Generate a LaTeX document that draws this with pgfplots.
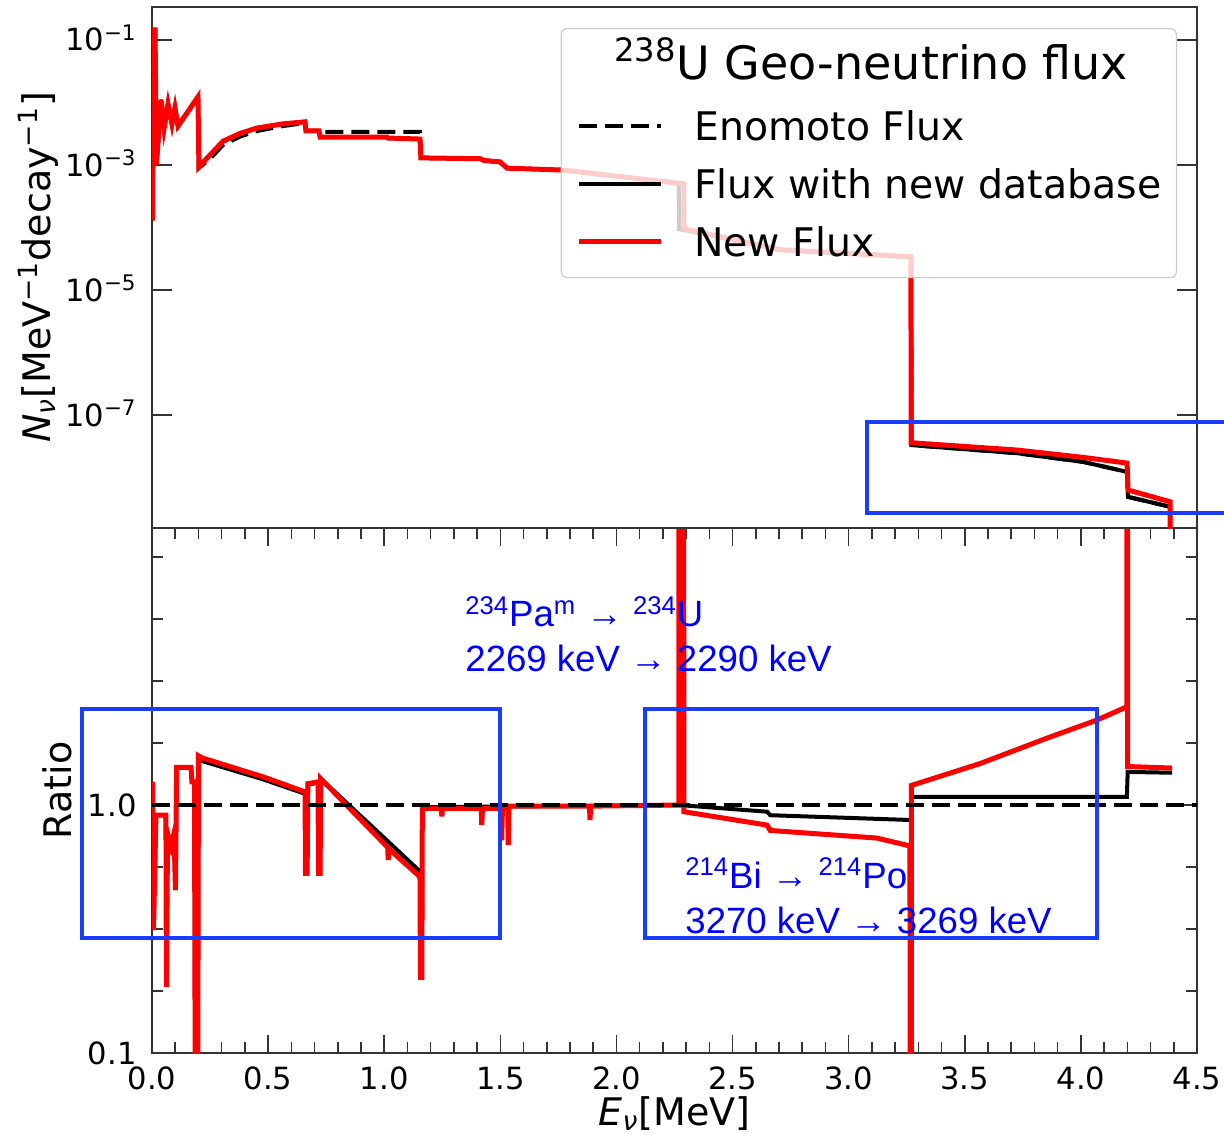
\documentclass[border=0pt]{standalone}
\usepackage{fontspec}
\setmainfont{DejaVu Sans}
\newfontfamily\arialfont{Liberation Sans}
\usepackage{pgfplots}
\pgfplotsset{compat=1.18}
\definecolor{boxblue}{RGB}{25,60,255}
\definecolor{txtblue}{RGB}{0,0,255}
\definecolor{legframe}{RGB}{204,204,204}

\pgfplotsset{
  myaxis/.style={
    scale only axis, width=522.5pt, xmin=0, xmax=4.5,
    axis line style={black!80, line width=0.8pt},
    tick style={black!80, line width=0.75pt},
    tick align=inside,
    major tick length=9pt, minor tick length=5.5pt,
    tick label style={font=\fontsize{15.3}{18}\selectfont},
    /pgf/number format/assume math mode=true,
    yticklabel style={anchor=base east, inner sep=0pt, xshift=-7.5pt, yshift=-5.5pt},
    label style={font=\fontsize{19}{22}\selectfont},
  },
}

\begin{document}
\begin{tikzpicture}
% ---------------- lower panel: ratio ----------------
\begin{axis}[myaxis, at={(0,0)}, anchor=south west, height=262.5pt,
  ymode=log, ymin=0.1, ymax=13.1,
  xtick={0,0.5,1,1.5,2,2.5,3,3.5,4,4.5},
  xticklabels={0.0,0.5,1.0,1.5,2.0,2.5,3.0,3.5,4.0,4.5},
  minor x tick num=4,
  ytick={0.1,1}, yticklabels={0.1,1.0},
  yminorticks=true,
  minor ytick={0.17783,0.31623,0.56234,1.7783,3.1623,5.6234,10},
  xticklabel style={anchor=base, inner sep=0pt, yshift=-18pt},
  xlabel={\textit{E}\textsubscript{\textit{ν}}[MeV]},
  xlabel style={at={(rel axis cs:0.5,0)}, anchor=base, inner sep=0pt, yshift=-36pt},
  ylabel={Ratio},
  ylabel style={at={(rel axis cs:-0.0766,0.5)}, anchor=base, inner sep=0pt},
]
% new database / Enomoto
\addplot[black, line width=2pt] coordinates {
(0.002,1.24)(0.0065,0.313)(0.017,0.91)(0.060,0.91)(0.062,0.185)(0.067,0.77)
(0.082,0.68)(0.095,0.77)(0.101,0.454)(0.106,1.42)(0.168,1.42)(0.172,1.24)
(0.183,1.24)(0.187,0.03)(0.196,0.03)(0.200,1.52)(0.478,1.27)(0.659,1.11)
(0.661,0.53)(0.668,0.53)(0.671,1.21)(0.715,1.23)(0.717,0.53)(0.724,0.53)
(0.726,1.28)(1.154,0.54)(1.156,0.202)(1.162,0.202)(1.164,0.98)(2.27,1.0)
(2.649,0.94)(2.662,0.91)(3.27,0.87)(3.2705,1.08)(4.198,1.08)(4.2015,1.36)(4.393,1.35)
};
% new flux / Enomoto
\addplot[red, line width=2.5pt] coordinates {
(0.002,1.24)(0.0065,0.313)(0.017,0.91)(0.060,0.91)(0.062,0.185)(0.067,0.77)
(0.082,0.68)(0.095,0.77)(0.101,0.454)(0.106,1.42)(0.168,1.42)(0.172,1.24)
(0.183,1.24)(0.187,0.03)(0.196,0.03)(0.200,1.58)(0.215,1.55)(0.478,1.30)
(0.659,1.13)(0.661,0.53)(0.668,0.53)(0.671,1.22)(0.715,1.24)(0.717,0.53)
(0.724,0.53)(0.726,1.28)(1.015,0.675)(1.017,0.60)(1.021,0.665)(1.154,0.513)
(1.156,0.202)(1.162,0.202)(1.164,0.97)(1.246,0.97)(1.248,0.90)(1.251,0.97)
(1.418,0.97)(1.42,0.83)(1.423,0.97)(1.504,0.97)(1.506,0.72)(1.509,0.97)
(1.532,0.97)(1.534,0.69)(1.537,0.99)(1.884,0.99)(1.886,0.87)(1.889,0.99)
(2.269,1.0)(2.2695,100)(2.2895,100)(2.290,0.94)(2.649,0.83)(2.662,0.79)
(3.121,0.736)(3.264,0.684)(3.265,0.001)(3.270,0.001)(3.2705,1.20)(3.566,1.47)
(3.853,1.86)(4.068,2.20)(4.198,2.49)(4.1985,100)(4.201,100)(4.2015,1.43)(4.393,1.41)
};
% Enomoto / Enomoto
\addplot[black, line width=2pt, dash pattern=on 9pt off 4pt] coordinates {(0,1)(4.5,1)};
\end{axis}

% ---------------- upper panel: flux ----------------
\begin{axis}[myaxis, at={(0,262.5pt)}, anchor=south west, height=260.5pt,
  ymode=log, ymin=1.556e-9, ymax=0.3373,
  xtick=\empty,
  ytick={1e-1,1e-3,1e-5,1e-7},
  yticklabels={10\textsuperscript{−1},10\textsuperscript{−3},10\textsuperscript{−5},10\textsuperscript{−7}},
  yminorticks=false, major tick length=10pt,
  ylabel={\textit{N}\textsubscript{\textit{ν}}[MeV\textsuperscript{−1}decay\textsuperscript{−1}]},
  ylabel style={at={(rel axis cs:-0.0976,0.5)}, anchor=base, inner sep=0pt},
  legend cell align=left,
  legend image code/.code={\draw[#1] (0pt,0pt) -- (41pt,0pt);},
  legend style={at={(rel axis cs:1,1)}, anchor=north east, xshift=-10pt, yshift=-10.5pt,
    draw=legframe, line width=0.6pt, rounded corners=3pt,
    fill=white, fill opacity=0.8, text opacity=1, draw opacity=1,
    font=\fontsize{19.7}{23}\selectfont,
    inner xsep=7.5pt, inner ysep=7.5pt, row sep=8pt, column sep=15.5pt,
    nodes={inner sep=0pt, text height=18pt, text depth=3pt}},
]
\addlegendimage{empty legend}
\addlegendentry[font=\fontsize{23}{27}\selectfont, text depth=4.5pt]{\hspace*{-40pt}\textsuperscript{238}U Geo-neutrino flux}
% Enomoto flux
\addplot[black, line width=2pt, dash pattern=on 9pt off 4pt] coordinates {
(0.002,1.3e-4)(0.005,0.145)(0.013,0.145)(0.019,1.0e-3)(0.039,1.1e-2)(0.052,3.9e-3)
(0.069,9.5e-3)(0.086,4.5e-3)(0.099,8.2e-3)(0.112,4.2e-3)(0.198,1.23e-2)
(0.202,9.0e-4)(0.250,1.25e-3)(0.306,2.1e-3)(0.379,2.85e-3)(0.452,3.5e-3)
(0.564,4.2e-3)(0.659,4.7e-3)(0.663,3.5e-3)(0.719,3.5e-3)(0.724,3.4e-3)(1.154,3.4e-3)
(1.158,1.3e-3)(1.413,1.26e-3)(1.43,1.18e-3)(1.499,1.12e-3)(1.529,8.9e-4)(1.770,8.3e-4)
(2.145,5.75e-4)(2.269,5.1e-4)(2.270,9.5e-5)(2.705,4.4e-5)(3.269,3.4e-5)(3.270,3.3e-8)
(3.725,2.45e-8)(4.009,1.78e-8)(4.199,1.23e-8)(4.203,4.9e-9)(4.384,3.4e-9)(4.385,1e-10)
};
\addlegendentry{Enomoto Flux}
% flux with new database
\addplot[black, line width=2pt] coordinates {
(0.002,1.3e-4)(0.005,0.145)(0.013,0.145)(0.019,1.0e-3)(0.039,1.1e-2)(0.052,3.9e-3)
(0.069,9.5e-3)(0.086,4.5e-3)(0.099,8.2e-3)(0.112,4.2e-3)(0.198,1.23e-2)
(0.202,9.3e-4)(0.250,1.45e-3)(0.306,2.4e-3)(0.379,3.2e-3)(0.452,3.9e-3)
(0.564,4.55e-3)(0.659,4.9e-3)(0.663,3.5e-3)(0.719,3.5e-3)(0.724,2.8e-3)(1.012,2.8e-3)
(1.016,2.7e-3)(1.154,2.6e-3)(1.158,1.3e-3)(1.413,1.26e-3)(1.43,1.18e-3)(1.499,1.12e-3)
(1.529,8.9e-4)(1.770,8.3e-4)(2.145,5.75e-4)(2.269,5.1e-4)(2.270,9.5e-5)(2.705,4.4e-5)
(3.269,3.4e-5)(3.270,3.3e-8)(3.725,2.45e-8)(4.009,1.78e-8)(4.199,1.23e-8)(4.203,4.9e-9)
(4.384,3.4e-9)(4.385,1e-10)
};
\addlegendentry{Flux with new database}
% new flux
\addplot[red, line width=2.5pt] coordinates {
(0.002,1.3e-4)(0.005,0.145)(0.013,0.145)(0.019,1.0e-3)(0.039,1.1e-2)(0.052,3.9e-3)
(0.069,9.5e-3)(0.086,4.5e-3)(0.099,8.2e-3)(0.112,4.2e-3)(0.198,1.23e-2)
(0.202,9.3e-4)(0.250,1.45e-3)(0.306,2.4e-3)(0.379,3.2e-3)(0.452,3.9e-3)
(0.564,4.55e-3)(0.659,4.9e-3)(0.663,3.5e-3)(0.719,3.5e-3)(0.724,2.8e-3)(1.012,2.8e-3)
(1.016,2.7e-3)(1.154,2.6e-3)(1.158,1.3e-3)(1.413,1.26e-3)(1.43,1.18e-3)(1.499,1.12e-3)
(1.529,8.9e-4)(1.770,8.3e-4)(2.145,5.75e-4)(2.290,5.0e-4)(2.291,9.5e-5)(2.705,4.4e-5)
(3.268,3.4e-5)(3.269,3.6e-8)(3.725,2.75e-8)(4.009,2.1e-8)(4.199,1.7e-8)(4.203,6.3e-9)
(4.384,4.1e-9)(4.385,1e-10)
};
\addlegendentry{New Flux}
\end{axis}

% ---------------- annotations ----------------
\draw[boxblue, line width=1.7pt] (357.5pt,270pt) rectangle (545pt,315.5pt);
\draw[boxblue, line width=1.7pt] (-35pt,57.5pt) rectangle (174pt,172pt);
\draw[boxblue, line width=1.7pt] (246.5pt,57.5pt) rectangle (472.5pt,172pt);
\begin{scope}[every node/.style={anchor=base west, inner sep=0pt, text=txtblue, font=\arialfont\fontsize{18.3}{22}\selectfont}]
\node at (156.5pt,213pt) {\textsuperscript{234}Pa\textsuperscript{m} → \textsuperscript{234}U};
\node at (156.5pt,190.5pt) {2269 keV → 2290 keV};
\node at (266.5pt,82.5pt) {\textsuperscript{214}Bi → \textsuperscript{214}Po};
\node at (266.5pt,60pt) {3270 keV → 3269 keV};
\end{scope}

\pgfresetboundingbox
\path[use as bounding box] (-76pt,-43.5pt) rectangle (536pt,526.5pt);
\end{tikzpicture}
\end{document}
